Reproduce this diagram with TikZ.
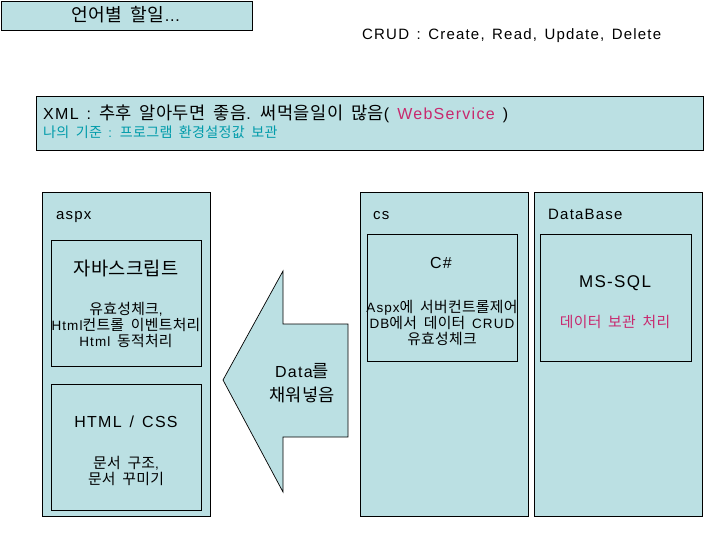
\documentclass[tikz,border=0pt]{standalone}
\usepackage{fontspec}
\setmainfont{Liberation Sans}[LetterSpace=8, WordSpace=1.4]
\newfontfamily\krfont{Noto Sans CJK KR}[Scale=1.1, LetterSpace=2]
\XeTeXinterchartokenstate=1
\newXeTeXintercharclass\krcls
\count255="AC00
\loop\ifnum\count255<"D7A4 \XeTeXcharclass\count255=\krcls \advance\count255 by 1 \repeat
\XeTeXinterchartoks 0 \krcls = {\begingroup\krfont}
\XeTeXinterchartoks 4095 \krcls = {\begingroup\krfont}
\XeTeXinterchartoks \krcls 0 = {\endgroup}
\XeTeXinterchartoks \krcls 4095 = {\endgroup}
\definecolor{boxfill}{RGB}{187,224,227}
\definecolor{pinktxt}{RGB}{200,40,110}
\definecolor{tealtxt}{RGB}{0,155,170}
\begin{document}
\begin{tikzpicture}[x=1pt,y=-1pt,
  box/.style={draw=black, fill=boxfill, line width=1.2pt, inner sep=0pt, anchor=north west, rectangle},
  inbox/.style={draw=black, fill=boxfill, line width=0.9pt, inner sep=0pt, anchor=north west, rectangle},
  lbl/.style={inner sep=0pt, anchor=base, font=\fontsize{15}{18}\selectfont},
  lbll/.style={inner sep=0pt, anchor=base west, font=\fontsize{15}{18}\selectfont},
  small/.style={inner sep=0pt, anchor=base, font=\fontsize{13.5}{16}\selectfont}]
\useasboundingbox (0,0) rectangle (720,540);
% top title box
\node[box, minimum width=251.4, minimum height=29.4] (title) at (0.6,0.6) {};
\node[lbl, font=\fontsize{16.5}{19}\selectfont] (titletxt) at (126,22) {언어별 할일…};
\node[lbll] (crud) at (362,40) {CRUD : Create, Read, Update, Delete};
% XML box
\node[box, minimum width=667, minimum height=54] (xml) at (36,96) {};
\node[lbll, font=\fontsize{16}{19}\selectfont] (xmltxt) at (43,120) {XML : 추후 알아두면 좋음. 써먹을일이 많음( \textcolor{pinktxt}{WebService} )};
\node[lbll, font=\fontsize{12.8}{15}\selectfont, text=tealtxt] (mine) at (43,138) {나의 기준 : 프로그램 환경설정값 보관};
% aspx
\node[box, minimum width=168, minimum height=324] (aspx) at (42,192) {};
\node[lbll] (aspxtxt) at (56,220) {aspx};
\node[inbox, minimum width=150, minimum height=126] (js) at (51,240) {};
\node[lbl, font=\fontsize{17}{21}\selectfont] (jstxt) at (126,275) {자바스크립트};
\node[small] (js1) at (126,314) {유효성체크,};
\node[small] (js2) at (126,330) {Html컨트롤 이벤트처리};
\node[small] (js3) at (126,346) {Html 동적처리};
\node[inbox, minimum width=150, minimum height=126] (html) at (51,384) {};
\node[lbl, font=\fontsize{16}{19}\selectfont] (htmltxt) at (126,427) {HTML / CSS};
\node[small] (h1) at (126,468) {문서 구조,};
\node[small] (h2) at (126,484) {문서 꾸미기};
% arrow
\path[draw=black, fill=boxfill, line width=0.7pt] (223,380) -- (283,271) -- (283,324) -- (348,324) -- (348,437) -- (283,437) -- (283,492) -- cycle;
\node[lbl, font=\fontsize{16}{19}\selectfont] (data1) at (302,377) {Data를};
\node[lbl, font=\fontsize{16}{19}\selectfont] (data2) at (302,401) {채워넣음};
% cs
\node[box, minimum width=168, minimum height=324] (cs) at (360,192) {};
\node[lbll] (cstxt) at (373,220) {cs};
\node[inbox, minimum width=150, minimum height=127] (csharp) at (367,234) {};
\node[lbl, font=\fontsize{16}{19}\selectfont] (cshtxt) at (441,268) {C\#};
\node[small] (c1) at (442,312) {Aspx에 서버컨트롤제어};
\node[small] (c2) at (442,328) {DB에서 데이터 CRUD};
\node[small] (c3) at (442,344) {유효성체크};
% database
\node[box, minimum width=168, minimum height=324] (db) at (534,192) {};
\node[lbll] (dbtxt) at (548,220) {DataBase};
\node[inbox, minimum width=151, minimum height=127] (mssql) at (540,234) {};
\node[lbl, font=\fontsize{17}{20}\selectfont] (mstxt) at (615,287) {MS-SQL};
\node[small, text=pinktxt] (keep) at (615,327) {데이터 보관 처리};
\end{tikzpicture}
\end{document}
